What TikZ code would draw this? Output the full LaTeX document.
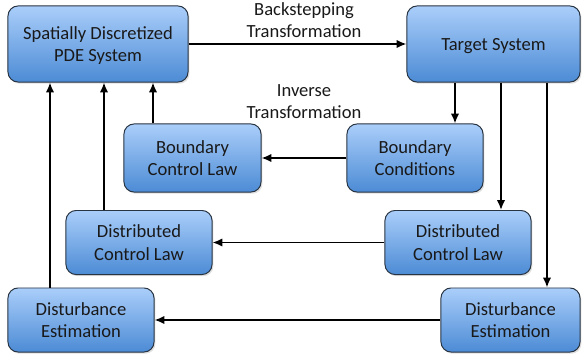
\documentclass[tikz,border=0pt]{standalone}
\usepackage{fontspec}
\setmainfont{Carlito}
\usepackage{xcolor}
\usepackage{tikz}
\usetikzlibrary{positioning,arrows.meta,calc,shadows}

\definecolor{boxtop}{RGB}{170,206,250}
\definecolor{boxbot}{RGB}{76,139,213}
\definecolor{boxline}{RGB}{40,52,66}

\begin{document}
\begin{tikzpicture}[
  x=0.025cm, y=-0.025cm,
  every node/.style={font=\fontsize{13.2}{15.8}\selectfont, text=black!90},
  box/.style={draw=boxline, line width=0.7pt, rounded corners=0.25cm,
    top color=boxtop, bottom color=boxbot, align=center, inner sep=2pt,
    text depth=-5pt,
    drop shadow={opacity=0.25, shadow xshift=1pt, shadow yshift=-1.2pt}},
  arr/.style={line width=1.3pt, -{Latex[length=7pt,width=6pt]}},
  lbl/.style={align=center}
]
\useasboundingbox (0,0) rectangle (584,360);

% blocks
\node[box, minimum width=4.5cm,   minimum height=1.9cm] (pde)    at (98,44)    {Spatially Discretized\\PDE System};
\node[box, minimum width=4.325cm, minimum height=1.9cm] (target) at (493.5,44) {Target System};
\node[box, minimum width=3.425cm, minimum height=1.7cm] (bcl)    at (192.5,158) {Boundary\\Control Law};
\node[box, minimum width=3.4cm,   minimum height=1.7cm] (bc)     at (415,158)  {Boundary\\Conditions};
\node[box, minimum width=3.65cm,  minimum height=1.6cm] (dclL)   at (139,242.5) {Distributed\\Control Law};
\node[box, minimum width=3.65cm,  minimum height=1.6cm] (dclR)   at (458,242.5) {Distributed\\Control Law};
\node[box, minimum width=3.65cm,  minimum height=1.6cm] (distL)  at (81,320)   {Disturbance\\Estimation};
\node[box, minimum width=3.475cm, minimum height=1.6cm] (distR)  at (510.5,320) {Disturbance\\Estimation};

% labels
\node[lbl] (fwd) at (304,20)  {Backstepping\\Transformation};
\node[lbl] (inv) at (304,102) {Inverse\\Transformation};

% columns of the vertical links
\coordinate (c1) at (455,0);
\coordinate (c2) at (501,0);
\coordinate (c3) at (547,0);
\coordinate (c4) at (153,0);
\coordinate (c5) at (104,0);
\coordinate (c6) at (50,0);

\draw[arr] (pde) -- (target);
\draw[arr] (target.south -| c1) -- (bc.north -| c1);
\draw[arr] (target.south -| c2) -- (dclR.north -| c2);
\draw[arr] (target.south -| c3) -- (distR.north -| c3);
\draw[arr] (bc) -- (bcl);
\draw[arr] (dclR) -- (dclL);
\draw[arr] (distR) -- (distL);
\draw[arr] (bcl.north -| c4) -- (pde.south -| c4);
\draw[arr] (dclL.north -| c5) -- (pde.south -| c5);
\draw[arr] (distL.north -| c6) -- (pde.south -| c6);
\end{tikzpicture}
\end{document}
